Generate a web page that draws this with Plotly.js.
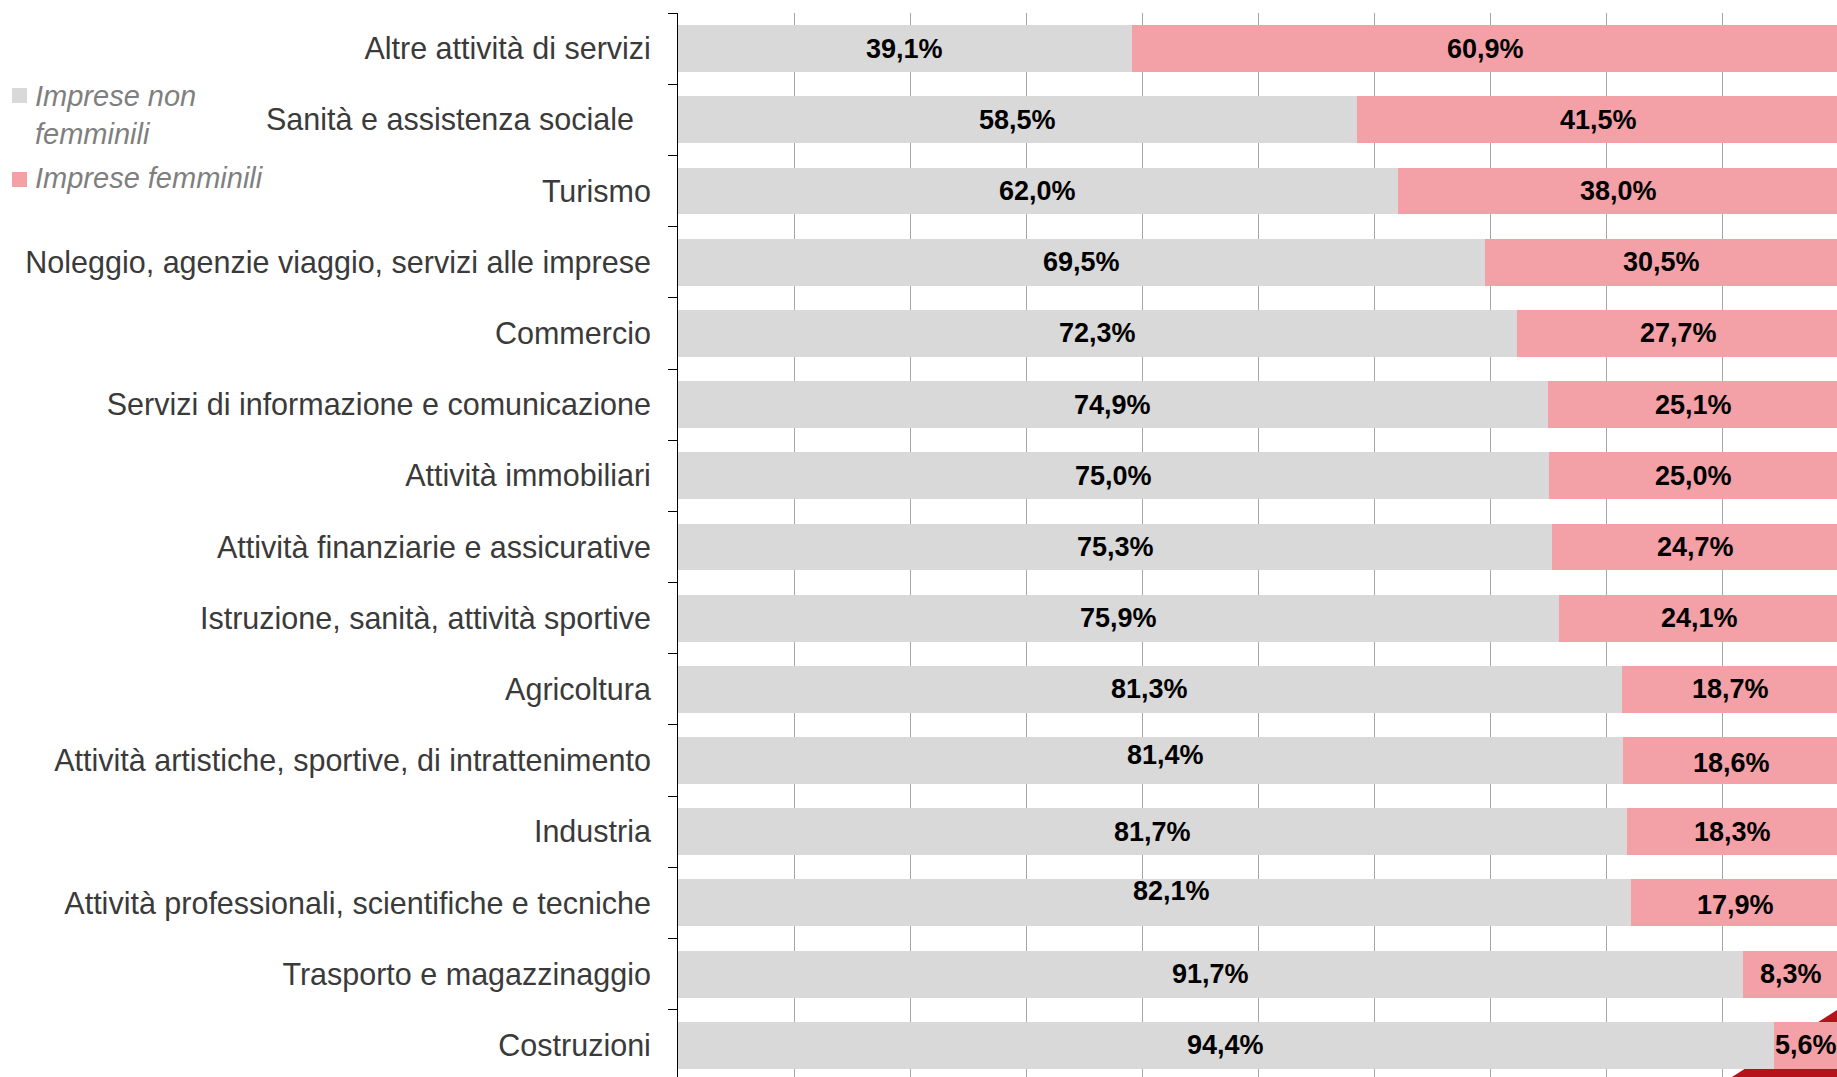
<!DOCTYPE html>
<html>
<head>
<meta charset="utf-8">
<script src="https://cdn.plot.ly/plotly-3.0.1.min.js"></script>
<style>
  html, body { margin: 0; padding: 0; background: #ffffff; }
  #chart { width: 1837px; height: 1077px; }
</style>
</head>
<body>
<div id="chart"></div>
<script>
// ---------------- DATA ----------------
const categories = [
  "Altre attività di servizi",
  "Sanità e assistenza sociale",
  "Turismo",
  "Noleggio, agenzie viaggio, servizi alle imprese",
  "Commercio",
  "Servizi di informazione e comunicazione",
  "Attività immobiliari",
  "Attività finanziarie e assicurative",
  "Istruzione, sanità, attività sportive",
  "Agricoltura",
  "Attività artistiche, sportive, di intrattenimento",
  "Industria",
  "Attività professionali, scientifiche e tecniche",
  "Trasporto e magazzinaggio",
  "Costruzioni"
];
const tickLabels = categories.map(c => c === "Sanità e assistenza sociale" ? c + "\u00a0\u00a0" : c);
const impreseNonFemminili = [39.1, 58.5, 62.0, 69.5, 72.3, 74.9, 75.0, 75.3, 75.9, 81.3, 81.4, 81.7, 82.1, 91.7, 94.4];
const impreseFemminili   = [60.9, 41.5, 38.0, 30.5, 27.7, 25.1, 25.0, 24.7, 24.1, 18.7, 18.6, 18.3, 17.9, 8.3, 5.6];
const seriesNames = ["Imprese non femminili", "Imprese femminili"];
const legendLabels = ["Imprese non<br>femminili", "Imprese femminili"];

// ---------------- STYLE ----------------
const FONT = "Liberation Sans, Arial, Helvetica, sans-serif";
const GREY = "#D9D9D9";
const PINK = "#F3A0A7";
const W_PX = 1837, H_PX = 1077;
const M = { l: 678, r: 0, t: 13, b: 0 };
const PW = W_PX - M.l - M.r, PH = H_PX - M.t - M.b;
const px2x = px => (px - M.l) / PW;
const py2y = py => (H_PX - M.b - py) / PH;

// manual label nudges present in the original (pixels: [dx, dy-up])
const labelNudge = {
  "Attività artistiche, sportive, di intrattenimento": { a: [15, 6], b: [0, -2] },
  "Attività professionali, scientifiche e tecniche": { a: [17, 12], b: [0, -2] }
};

const fmt = v => v.toFixed(1).replace(".", ",") + "%";

const traces = [
  {
    type: "bar", orientation: "h", name: seriesNames[0],
    y: categories, x: impreseNonFemminili,
    marker: { color: GREY, line: { width: 0 } },
    hoverinfo: "skip", showlegend: false
  },
  {
    type: "bar", orientation: "h", name: seriesNames[1],
    y: categories, x: impreseFemminili,
    marker: { color: PINK, line: { width: 0 } },
    hoverinfo: "skip", showlegend: false
  }
];

const annotations = [];
categories.forEach((c, i) => {
  const a = impreseNonFemminili[i], b = impreseFemminili[i];
  const n = labelNudge[c] || { a: [0, 0], b: [0, 0] };
  annotations.push({
    x: a / 2, y: c, xref: "x", yref: "y", text: fmt(a), showarrow: false,
    xanchor: "center", yanchor: "middle", xshift: n.a[0], yshift: n.a[1],
    font: { family: FONT, size: 27, color: "#000000", weight: "bold" }
  });
  annotations.push({
    x: a + b / 2, y: c, xref: "x", yref: "y", text: fmt(b), showarrow: false,
    xanchor: "center", yanchor: "middle", xshift: n.b[0], yshift: n.b[1],
    font: { family: FONT, size: 27, color: "#000000", weight: "bold" }
  });
});

// legend (text)
annotations.push({
  x: px2x(33), y: py2y(114.5), xref: "paper", yref: "paper", text: legendLabels[0],
  showarrow: false, xanchor: "left", yanchor: "middle", align: "left",
  font: { family: FONT, size: 29, color: "#7F7F7F", style: "italic" }
});
annotations.push({
  x: px2x(33), y: py2y(178), xref: "paper", yref: "paper", text: legendLabels[1],
  showarrow: false, xanchor: "left", yanchor: "middle", align: "left",
  font: { family: FONT, size: 29, color: "#7F7F7F", style: "italic" }
});

const shapes = [
  // legend swatches
  { type: "rect", xref: "paper", yref: "paper", x0: px2x(12), x1: px2x(27), y0: py2y(103), y1: py2y(88),
    fillcolor: GREY, line: { width: 0 } },
  { type: "rect", xref: "paper", yref: "paper", x0: px2x(12), x1: px2x(27), y0: py2y(187), y1: py2y(172),
    fillcolor: PINK, line: { width: 0 } },
  // red template corner decoration
  { type: "path", xref: "paper", yref: "paper", layer: "below",
    path: `M ${px2x(1732)},${py2y(1077)} L ${px2x(1837)},${py2y(1010)} L ${px2x(1837)},${py2y(1077)} Z`,
    fillcolor: "#B5121B", line: { width: 0 } }
];

const layout = {
  width: W_PX, height: H_PX,
  margin: { l: M.l, r: M.r, t: M.t, b: M.b, pad: 0 },
  paper_bgcolor: "#ffffff", plot_bgcolor: "rgba(0,0,0,0)",
  barmode: "stack", bargap: 0.34,
  showlegend: false,
  xaxis: {
    range: [0, 100 * PW / 1161], dtick: 10, tick0: 0,
    showgrid: true, gridcolor: "#A6A6A6", gridwidth: 1,
    zeroline: false, showline: false, showticklabels: false, ticks: "",
    fixedrange: true
  },
  yaxis: {
    type: "category", categoryorder: "array", categoryarray: categories,
    tickmode: "array", tickvals: categories, ticktext: tickLabels,
    range: [14.444, -0.5],
    tickson: "boundaries", ticks: "outside", ticklen: 9, tickwidth: 1, tickcolor: "#000000",
    showline: true, linecolor: "#000000", linewidth: 1,
    showgrid: false, zeroline: false,
    ticklabelstandoff: 20,
    tickfont: { family: FONT, size: 30.5, color: "#3A3A3A" },
    fixedrange: true
  },
  annotations: annotations,
  shapes: shapes
};

Plotly.newPlot("chart", traces, layout, { displayModeBar: false, staticPlot: true });
</script>
</body>
</html>
